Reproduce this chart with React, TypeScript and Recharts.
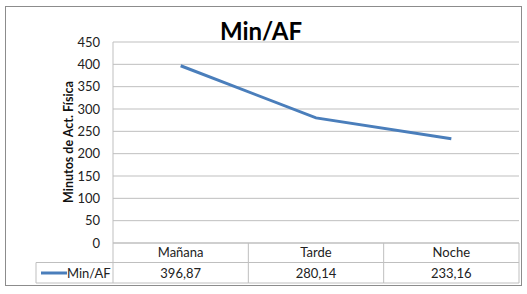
import React from 'react';
import { LineChart, Line, XAxis, YAxis, CartesianGrid } from 'recharts';

const categories = ['Mañana', 'Tarde', 'Noche'];
const minAF = [396.87, 280.14, 233.16];
const valueLabels = ['396,87', '280,14', '233,16'];
const yTicks = [0, 50, 100, 150, 200, 250, 300, 350, 400, 450];
const seriesName = 'Min/AF';
const chartTitle = 'Min/AF';
const yAxisTitle = 'Minutos de Act. Física';

const data = categories.map((name, i) => ({ name, value: minAF[i], label: valueLabels[i] }));

const FONT = 'Lato, "Liberation Sans", Arial, sans-serif';
const W = 527;
const H = 294;
const PLOT_LEFT = 113;
const PLOT_RIGHT = 519;
const PLOT_TOP = 42;
const PLOT_BOTTOM = 243;
const ROW1 = 262.5;
const ROW2 = 283;
const LEGEND_LEFT = 36;
const BAND = (PLOT_RIGHT - PLOT_LEFT) / categories.length;
const LINE_COLOR = '#4a7ebb';
const GRID = '#bfbfbf';
const TEXT = '#222';

// data table under the axis: category name, then the value, with cell borders
const TableTick = (props: any) => {
  const { x, payload, index } = props;
  const left = x - BAND / 2;
  const right = x + BAND / 2;
  const row = data[index];
  return (
    <g>
      <line x1={right} y1={PLOT_BOTTOM} x2={right} y2={ROW2} stroke={GRID} />
      <line x1={left} y1={ROW1} x2={right} y2={ROW1} stroke={GRID} />
      <line x1={left} y1={ROW2} x2={right} y2={ROW2} stroke={GRID} />
      <text x={x} y={257} textAnchor="middle" fontSize={13} fill={TEXT} fontFamily={FONT}>
        {payload.value}
      </text>
      <text x={x} y={277.5} textAnchor="middle" fontSize={13} fill={TEXT} fontFamily={FONT}>
        {row ? row.label : ''}
      </text>
      {index === 0 && (
        <g>
          <line x1={left} y1={PLOT_BOTTOM} x2={left} y2={ROW2} stroke={GRID} />
          <line x1={LEGEND_LEFT} y1={ROW1} x2={left} y2={ROW1} stroke={GRID} />
          <line x1={LEGEND_LEFT} y1={ROW2} x2={left} y2={ROW2} stroke={GRID} />
          <line x1={LEGEND_LEFT} y1={ROW1} x2={LEGEND_LEFT} y2={ROW2} stroke={GRID} />
          <line x1={41} y1={273} x2={67} y2={273} stroke={LINE_COLOR} strokeWidth={3} />
          <text x={67} y={277.5} fontSize={13} fill={TEXT} fontFamily={FONT}>
            {seriesName}
          </text>
        </g>
      )}
    </g>
  );
};

const YTitle = () => (
  <text
    x={73}
    y={142}
    transform="rotate(-90 73 142)"
    textAnchor="middle"
    fontSize={12.5}
    fontWeight="bold"
    fill="#111"
    fontFamily={FONT}
  >
    {yAxisTitle}
  </text>
);

export default function App() {
  return (
    <div style={{ position: 'absolute', left: 0, top: 0, width: W, height: H, background: '#fff' }}>
      <div
        style={{
          position: 'absolute',
          left: 5,
          top: 6,
          width: 517,
          height: 280,
          boxSizing: 'border-box',
          border: '1px solid #8c8c8c',
        }}
      />
      <div style={{ position: 'absolute', left: 0, top: 0 }}>
        <LineChart
          width={W}
          height={H}
          data={data}
          margin={{ top: PLOT_TOP, right: W - PLOT_RIGHT, left: 0, bottom: 0 }}
        >
          <CartesianGrid horizontal vertical={false} stroke={GRID} />
          <XAxis
            dataKey="name"
            scale="band"
            height={H - PLOT_BOTTOM}
            axisLine={{ stroke: GRID }}
            tickLine={false}
            interval={0}
            tick={<TableTick />}
          />
          <YAxis
            width={PLOT_LEFT}
            domain={[0, 450]}
            ticks={yTicks}
            interval={0}
            axisLine={{ stroke: GRID }}
            tickLine={false}
            tickSize={0}
            tickMargin={13}
            tick={{ fontSize: 13, fill: TEXT, fontFamily: FONT }}
            label={<YTitle />}
          />
          <Line
            type="linear"
            dataKey="value"
            name={seriesName}
            stroke={LINE_COLOR}
            strokeWidth={3}
            dot={false}
            isAnimationActive={false}
          />
          <text
            x={261}
            y={40}
            textAnchor="middle"
            fontSize={24}
            fontWeight="bold"
            fill="#000"
            fontFamily={FONT}
          >
            {chartTitle}
          </text>
        </LineChart>
      </div>
    </div>
  );
}
